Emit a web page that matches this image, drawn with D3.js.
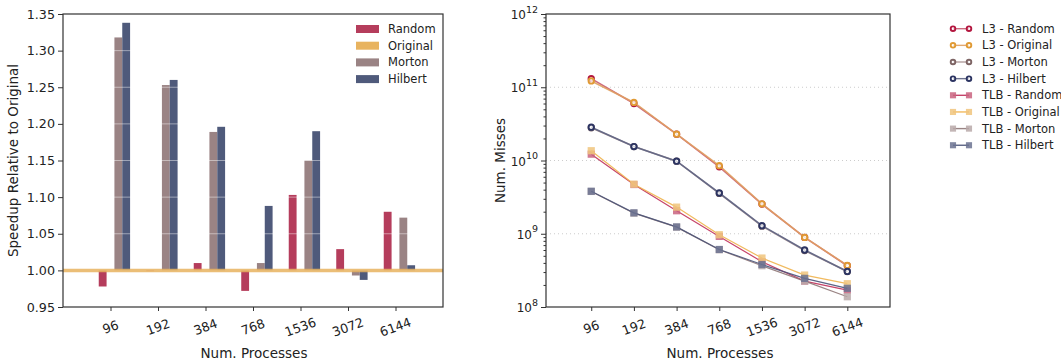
<!DOCTYPE html>
<html>
<head>
<meta charset="utf-8">
<script src="https://cdn.jsdelivr.net/npm/d3@7"></script>
<style>
  body { margin: 0; background: #fff; }
  svg text { font-family: "DejaVu Sans", sans-serif; fill: #222; }
</style>
</head>
<body>
<div id="chart"></div>
<script>
// process counts on the x axis
var categories = ["96", "192", "384", "768", "1536", "3072", "6144"];

// speedup relative to original (left panel)
var speedupRandom   = [0.978, 0.999, 1.010, 0.972, 1.103, 1.029, 1.080];
var speedupOriginal = [1.000, 1.000, 1.000, 1.000, 1.000, 1.000, 1.000];
var speedupMorton   = [1.318, 1.253, 1.189, 1.010, 1.150, 0.993, 1.072];
var speedupHilbert  = [1.338, 1.260, 1.196, 1.088, 1.190, 0.987, 1.007];
var speedupTicks = [0.95, 1.00, 1.05, 1.10, 1.15, 1.20, 1.25, 1.30, 1.35];

// cache / tlb misses (right panel)
var l3Random    = [1.31e11, 6.0e10, 2.29e10, 8.2e9, 2.54e9, 8.9e8, 3.66e8];
var l3Original  = [1.22e11, 6.2e10, 2.29e10, 8.5e9, 2.56e9, 8.9e8, 3.70e8];
var l3Morton    = [2.80e10, 1.55e10, 9.8e9, 3.55e9, 1.27e9, 5.9e8, 3.05e8];
var l3Hilbert   = [2.85e10, 1.55e10, 9.8e9, 3.60e9, 1.29e9, 6.0e8, 3.06e8];
var tlbRandom   = [1.22e10, 4.70e9, 2.06e9, 9.2e8, 4.15e8, 2.26e8, 1.70e8];
var tlbOriginal = [1.36e10, 4.75e9, 2.31e9, 9.7e8, 4.66e8, 2.73e8, 2.08e8];
var tlbMorton   = [3.78e9, 1.91e9, 1.23e9, 6.05e8, 3.66e8, 2.26e8, 1.38e8];
var tlbHilbert  = [3.80e9, 1.93e9, 1.24e9, 6.10e8, 3.80e8, 2.46e8, 1.80e8];
var missTicks = [1e8, 1e9, 1e10, 1e11, 1e12];

var W = 1061, H = 362;
var tickFont = "12.7px", labelFont = "13.5px", legendFont = "11.5px";
var svg = d3.select("#chart").append("svg")
    .attr("width", W).attr("height", H);

var barSeries = [
  {name: "Random",   values: speedupRandom,   color: "#b53d5c"},
  {name: "Original", values: speedupOriginal, color: "#e8b35f"},
  {name: "Morton",   values: speedupMorton,   color: "#9a8384"},
  {name: "Hilbert",  values: speedupHilbert,  color: "#4f5a7b"}
];

// ---------------- left panel ----------------
var L = {left: 63, right: 443, top: 14, bottom: 307};
var xL = d3.scaleLinear().domain([-1, 7]).range([L.left, L.right]);
var yL = d3.scaleLinear().domain([0.95, 1.35]).range([L.bottom, L.top]);
var bw = (xL(1) - xL(0)) * 0.165;

var gL = svg.append("g");
barSeries.forEach(function(s, k) {
  gL.append("g").selectAll("rect")
    .data(s.values)
    .enter().append("rect")
      .attr("x", function(d, i) { return xL(i) + (k - 1) * bw - bw / 2; })
      .attr("width", bw)
      .attr("y", function(d) { return yL(Math.max(d, 1)); })
      .attr("height", function(d) { return Math.abs(yL(d) - yL(1)); })
      .style("fill", s.color);
});
// white grid lines over the bars
gL.append("g").selectAll("line")
  .data(speedupTicks.slice(1, -1))
  .enter().append("line")
    .attr("x1", L.left).attr("x2", L.right)
    .attr("y1", function(d) { return yL(d); })
    .attr("y2", function(d) { return yL(d); })
    .style("stroke", "#fff").style("stroke-opacity", 0.45).style("stroke-width", 1);
// baseline for Original
gL.append("line")
  .attr("x1", L.left).attr("x2", L.right)
  .attr("y1", yL(1)).attr("y2", yL(1))
  .style("stroke", "#e8b35f").style("stroke-opacity", 0.85).style("stroke-width", 3.5);

gL.append("g")
  .attr("transform", "translate(" + L.left + ",0)")
  .call(d3.axisLeft(yL).tickValues(speedupTicks).tickFormat(d3.format(".2f")).tickSizeOuter(0).tickSize(5))
  .call(styleAxis);
gL.append("g")
  .attr("transform", "translate(0," + L.bottom + ")")
  .call(d3.axisBottom(xL).tickValues(d3.range(categories.length)).tickFormat("").tickSizeOuter(0).tickSize(4))
  .call(styleAxis);
rotatedLabels(gL, xL, L.bottom);
frame(gL, L);

gL.append("text")
  .attr("transform", "translate(" + 18 + "," + ((L.top + L.bottom) / 2) + ") rotate(-90)")
  .attr("text-anchor", "middle")
  .style("font-size", labelFont)
  .text("Speedup Relative to Original");
gL.append("text")
  .attr("x", (L.left + L.right) / 2 + 1).attr("y", 358)
  .attr("text-anchor", "middle")
  .style("font-size", labelFont)
  .text("Num. Processes");

var legL = gL.append("g");
barSeries.forEach(function(s, k) {
  var yy = 29 + k * 16.7;
  legL.append("rect").attr("x", 356).attr("y", yy - 4).attr("width", 23).attr("height", 8).style("fill", s.color);
  legL.append("text").attr("x", 388).attr("y", yy).attr("dy", "0.35em")
    .style("font-size", legendFont).text(s.name);
});

// ---------------- right panel ----------------
var R = {left: 546, right: 890, top: 14, bottom: 307};
var xR = d3.scaleLinear().domain([-1.06, 7]).range([R.left, R.right]);
var yR = d3.scaleLog().domain([1e8, 1e12]).range([R.bottom, R.top]);

var lineSeries = [
  {name: "L3 - Random",   values: l3Random,    mark: "circle", color: "#b3163f", line: "#c85a70"},
  {name: "L3 - Original", values: l3Original,  mark: "circle", color: "#e09a34", line: "#e0a060"},
  {name: "L3 - Morton",   values: l3Morton,    mark: "circle", color: "#7d6464", line: "#a89494"},
  {name: "L3 - Hilbert",  values: l3Hilbert,   mark: "circle", color: "#2c3462", line: "#5d6383"},
  {name: "TLB - Random",  values: tlbRandom,   mark: "square", color: "#c9637f", line: "#c0305a"},
  {name: "TLB - Original",values: tlbOriginal, mark: "square", color: "#f0c47c", line: "#efb24c"},
  {name: "TLB - Morton",  values: tlbMorton,   mark: "square", color: "#b9a9a9", line: "#8f7777"},
  {name: "TLB - Hilbert", values: tlbHilbert,  mark: "square", color: "#6b7291", line: "#4a5378"}
];

var gR = svg.append("g");
// dotted grid at decades
gR.append("g").selectAll("line")
  .data([1e9, 1e10, 1e11])
  .enter().append("line")
    .attr("x1", R.left).attr("x2", R.right)
    .attr("y1", function(d) { return yR(d); })
    .attr("y2", function(d) { return yR(d); })
    .style("stroke", "#ccc").style("stroke-width", 1).style("stroke-dasharray", "1,3");

var line = d3.line()
  .x(function(d, i) { return xR(i); })
  .y(function(d) { return yR(d); });

lineSeries.forEach(function(s) {
  var g = gR.append("g");
  g.append("path").datum(s.values)
    .attr("d", line)
    .style("fill", "none")
    .style("stroke", s.line)
    .style("stroke-width", s.mark === "circle" ? 1.6 : 1.2)
    .style("stroke-opacity", 0.9);
  drawMarkers(g, s, s.values.map(function(v, i) { return [xR(i), yR(v)]; }), 1);
});

function drawMarkers(g, s, pts, sc) {
  if (s.mark === "circle") {
    g.selectAll("circle").data(pts).enter().append("circle")
      .attr("cx", function(d) { return d[0]; })
      .attr("cy", function(d) { return d[1]; })
      .attr("r", 2.7 * sc)
      .style("fill", "#fff").style("fill-opacity", 0.7)
      .style("stroke", s.color).style("stroke-width", 1.9);
  } else {
    var h = 3.6 * sc;
    g.selectAll("rect.m").data(pts).enter().append("rect")
      .attr("class", "m")
      .attr("x", function(d) { return d[0] - h; })
      .attr("y", function(d) { return d[1] - h; })
      .attr("width", 2 * h).attr("height", 2 * h)
      .style("fill", s.color).style("fill-opacity", 0.85);
  }
}

// y axis with major and minor log ticks
var minor = [];
for (var e = 8; e < 12; e++) for (var m = 2; m < 10; m++) minor.push(m * Math.pow(10, e));
gR.append("g")
  .attr("transform", "translate(" + R.left + ",0)")
  .call(d3.axisLeft(yR).tickValues(minor).tickFormat("").tickSizeOuter(0).tickSize(2.5))
  .call(styleAxis);
gR.append("g")
  .attr("transform", "translate(" + R.left + ",0)")
  .call(d3.axisLeft(yR).tickValues(missTicks).tickFormat("").tickSizeOuter(0).tickSize(5))
  .call(styleAxis);
missTicks.forEach(function(t) {
  var txt = gR.append("text")
    .attr("x", 538).attr("y", yR(t) + 5)
    .attr("text-anchor", "end")
    .style("font-size", "12px");
  txt.append("tspan").text("10");
  txt.append("tspan").attr("dy", -6.5).style("font-size", "9.5px").text(Math.round(Math.log10(t)));
});
gR.append("g")
  .attr("transform", "translate(0," + R.bottom + ")")
  .call(d3.axisBottom(xR).tickValues(d3.range(categories.length)).tickFormat("").tickSizeOuter(0).tickSize(4))
  .call(styleAxis);
rotatedLabels(gR, xR, R.bottom);
frame(gR, R);

gR.append("text")
  .attr("transform", "translate(" + 505 + "," + ((R.top + R.bottom) / 2) + ") rotate(-90)")
  .attr("text-anchor", "middle")
  .style("font-size", labelFont)
  .text("Num. Misses");
gR.append("text")
  .attr("x", 720).attr("y", 358)
  .attr("text-anchor", "middle")
  .style("font-size", labelFont)
  .text("Num. Processes");

var legR = gR.append("g");
lineSeries.forEach(function(s, k) {
  var yy = 28.7 + k * 16.65;
  var g = legR.append("g");
  g.append("line").attr("x1", 953).attr("x2", 969).attr("y1", yy).attr("y2", yy)
    .style("stroke", s.line).style("stroke-width", 1.4).style("stroke-opacity", 0.9);
  drawMarkers(g, s, [[953, yy], [969, yy]], 0.85);
  g.append("text").attr("x", 982).attr("y", yy).attr("dy", "0.35em")
    .style("font-size", legendFont).text(s.name);
});

// ---------------- helpers ----------------
function styleAxis(g) {
  g.select(".domain").remove();
  g.selectAll(".tick line").style("stroke", "#333").style("stroke-width", 1);
  g.selectAll(".tick text").style("font-size", tickFont).style("fill", "#222")
    .style("font-family", "DejaVu Sans, sans-serif");
}

function rotatedLabels(g, x, bottom) {
  g.append("g").selectAll("text")
    .data(categories)
    .enter().append("text")
      .attr("transform", function(d, i) { return "translate(" + x(i) + "," + (bottom + 20) + ") rotate(-20)"; })
      .attr("text-anchor", "middle")
      .attr("dy", "0.35em")
      .style("font-size", tickFont)
      .text(function(d) { return d; });
}

function frame(g, b) {
  g.append("rect")
    .attr("x", b.left).attr("y", b.top)
    .attr("width", b.right - b.left).attr("height", b.bottom - b.top)
    .style("fill", "none").style("stroke", "#333").style("stroke-width", 1.2);
}
</script>
</body>
</html>
